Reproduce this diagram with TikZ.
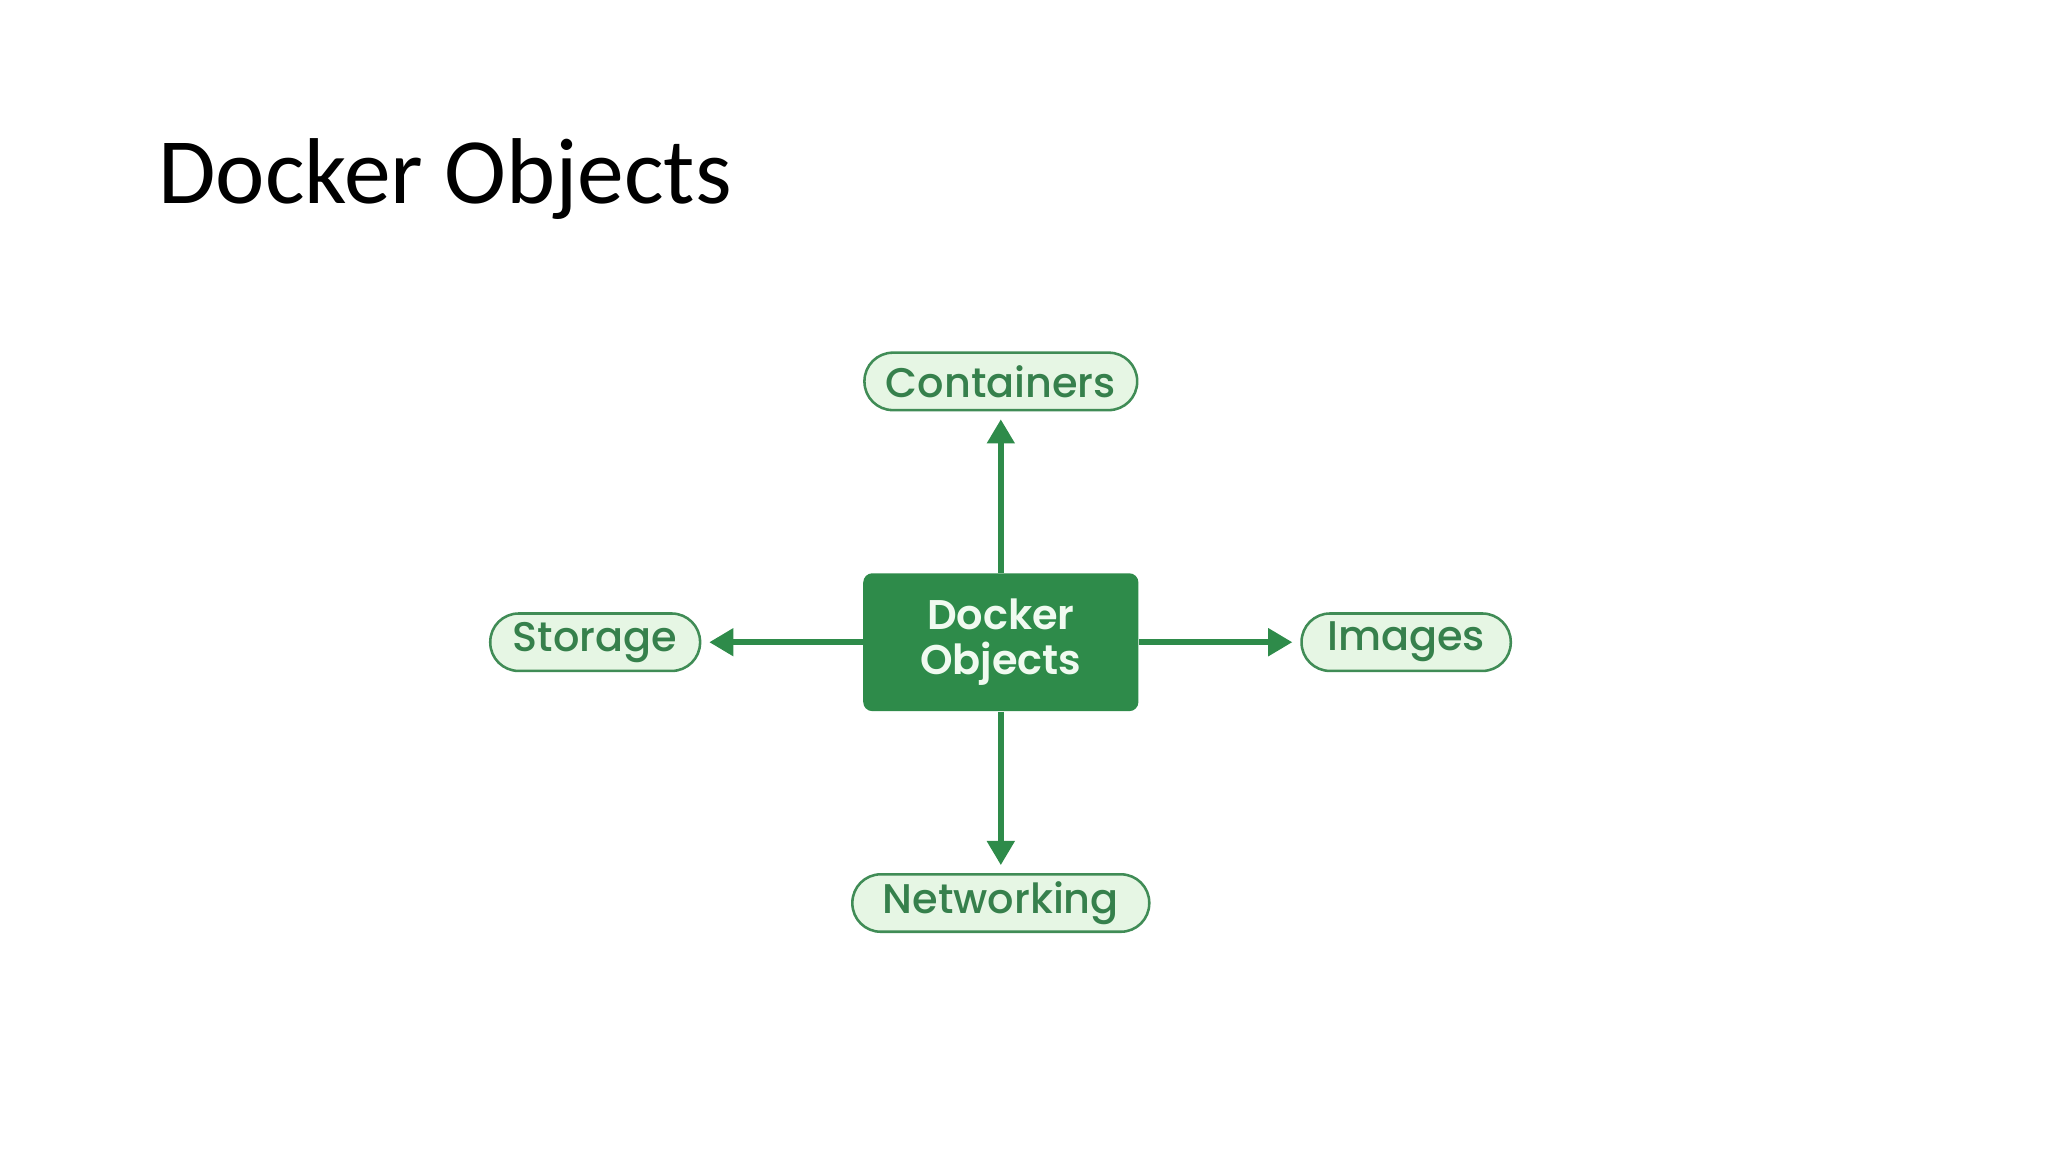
\documentclass[tikz,border=0pt]{standalone}
\usepackage{fontspec}
\setmainfont{Carlito}
\newfontfamily\diagfont{Poppins}[UprightFont=* Medium, BoldFont=* SemiBold]
\usetikzlibrary{arrows.meta, positioning}
\definecolor{dockgreen}{RGB}{46,139,74}
\definecolor{pillfill}{RGB}{230,246,228}
\definecolor{pilltext}{RGB}{54,128,76}
\definecolor{pilledge}{RGB}{64,140,86}
\definecolor{coretext}{RGB}{240,250,240}
\tikzstyle{arr}  = [draw=dockgreen, line width=2.8pt, -{Triangle[width=0.44cm,length=0.4cm]}, shorten >=0.13cm]
\tikzstyle{pill} = [draw=pilledge, fill=pillfill, line width=1.2pt, rounded corners=0.47cm, minimum height=0.95cm, inner sep=0pt, text=pilltext, font=\diagfont\fontsize{19.5}{24}\selectfont]
\tikzstyle{core} = [fill=dockgreen, rounded corners=0.15cm, minimum width=4.55cm, minimum height=2.28cm, align=center, text=coretext, font=\diagfont\bfseries\fontsize{19.5}{21}\selectfont]

\begin{document}
\begin{tikzpicture}[node distance=2.67cm]
\useasboundingbox (0,0) rectangle (33.867,-19.05);

% title
\node [anchor=base west, inner sep=0pt, font=\fontsize{44}{53}\selectfont] (title) at (2.61,-3.37) {Docker Objects};

% central box and its objects
\node [core] (core) at (16.55,-10.62) {Docker\\Objects};
\node [pill, minimum width=4.51cm, above=of core]  (cont) {Containers};
\node [pill, minimum width=3.47cm, left=of core]   (stor) {Storage};
\node [pill, minimum width=3.46cm, right=of core]  (imag) {Images};
\node [pill, minimum width=4.91cm, below=of core]  (netw) {Networking};

\path [arr] (core) -- (cont);
\path [arr] (core) -- (stor);
\path [arr] (core) -- (imag);
\path [arr] (core) -- (netw);

\end{tikzpicture}
\end{document}
